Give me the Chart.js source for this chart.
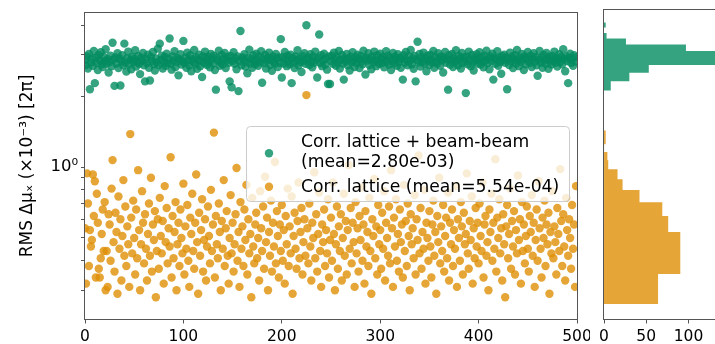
<!DOCTYPE html>
<html>
<head>
<meta charset="utf-8">
<script src="https://cdn.jsdelivr.net/npm/chart.js@4/dist/chart.umd.min.js"></script>
<style>
html, body { margin: 0; padding: 0; background: #fff; overflow: hidden; }
#wrap { position: relative; width: 715px; height: 344px; overflow: hidden; }
#scatter { position: absolute; left: 0; top: 0; }
#hist { position: absolute; left: 560px; top: 0; }
</style>
</head>
<body>
<div id="wrap">
  <canvas id="scatter" width="590" height="344"></canvas>
  <canvas id="hist" width="180" height="344"></canvas>
</div>
<script>
// =============== Data (RMS Δμx, units of 1e-3, one value per seed)
const beamBeamLabel = 'Corr. lattice + beam-beam\n(mean=2.80e-03)';
const latticeLabel = 'Corr. lattice (mean=5.54e-04)';

const beamBeam = [
  2.84, 2.71, 2.95, 2.62, 3.02, 2.14, 2.78, 2.88, 2.69, 3.11, 2.27, 2.91, 2.76, 2.58, 2.99, 2.83, 3.07, 2.73, 2.66, 2.93, 2.81, 3.16, 2.74, 2.87, 2.52,
  2.79, 2.97, 2.68, 3.37, 2.86, 2.21, 2.92, 2.75, 3.04, 2.63, 2.89, 2.22, 2.81, 2.98, 2.70, 3.34, 2.77, 2.54, 2.90, 3.09, 2.72, 2.85, 2.60, 2.94, 2.80,
  2.88, 3.13, 2.67, 2.79, 2.96, 2.74, 2.48, 2.91, 2.83, 3.05, 2.70, 2.31, 2.87, 2.76, 3.00, 2.64, 2.33, 2.93, 2.82, 3.08, 2.73, 2.57, 2.89, 2.78, 3.18,
  2.71, 3.34, 2.85, 2.97, 2.62, 2.80, 2.93, 2.69, 3.03, 2.76, 2.88, 3.51, 2.74, 2.59, 2.95, 2.83, 3.10, 2.66, 2.79, 2.90, 2.45, 2.86, 3.01, 2.72, 2.81,
  3.43, 2.77, 2.91, 2.64, 3.06, 2.84, 2.70, 2.98, 2.55, 2.87, 2.79, 3.14, 2.73, 2.92, 2.61, 2.85, 3.00, 2.68, 2.82, 2.41, 2.95, 2.76, 3.09, 2.88, 2.71,
  2.94, 2.80, 2.65, 3.02, 2.86, 2.75, 2.97, 2.58, 2.13, 2.90, 2.83, 3.12, 2.69, 2.78, 2.99, 2.72, 2.88, 3.05, 2.63, 2.84, 2.93, 2.77, 2.31, 2.96, 2.18,
  2.82, 3.07, 2.74, 2.89, 2.60, 2.95, 2.10, 2.81, 3.78, 2.70, 2.92, 2.86, 3.01, 2.67, 2.79, 2.50, 2.91, 3.15, 2.75, 2.87, 2.64, 2.98, 2.80, 2.73, 3.03,
  2.85, 2.69, 2.94, 2.78, 3.10, 2.28, 2.88, 2.76, 2.99, 2.62, 2.83, 2.91, 3.06, 2.71, 2.86, 2.56, 2.95, 2.80, 2.74, 3.02, 2.89, 2.66, 2.92, 2.77, 3.49,
  2.40, 2.93, 2.75, 3.08, 2.87, 2.68, 2.97, 2.81, 2.73, 3.00, 2.27, 2.90, 2.78, 2.63, 2.95, 2.84, 3.13, 2.70, 2.89, 2.79, 2.53, 2.96, 2.82, 3.04, 2.74,
  4.00, 2.86, 2.92, 2.71, 3.01, 2.80, 2.65, 2.94, 2.77, 3.09, 2.85, 2.40, 2.91, 3.65, 2.76, 2.98, 2.68, 2.83, 3.03, 2.72, 2.89, 2.59, 2.25, 2.95, 2.25,
  2.82, 2.97, 2.74, 3.06, 2.87, 2.69, 2.93, 2.79, 3.11, 2.62, 2.85, 2.99, 2.75, 2.35, 2.90, 2.81, 3.02, 2.70, 2.88, 2.57, 2.94, 2.78, 3.07, 2.84, 2.66,
  2.91, 2.77, 3.00, 2.86, 2.63, 2.96, 2.80, 2.73, 3.12, 2.89, 2.47, 2.92, 2.83, 3.04, 2.71, 2.87, 2.60, 2.95, 2.78, 3.09, 2.84, 2.68, 2.98, 2.81, 2.74,
  3.03, 2.88, 2.76, 2.93, 2.65, 2.85, 3.10, 2.79, 2.97, 2.72, 2.90, 2.58, 2.83, 3.05, 2.75, 2.94, 2.86, 2.69, 3.01, 2.80, 2.91, 2.64, 2.87, 2.35, 2.98,
  2.77, 3.08, 2.84, 2.70, 2.95, 2.82, 3.14, 2.73, 2.89, 2.61, 2.96, 2.31, 2.85, 3.40, 2.78, 3.02, 2.67, 2.92, 2.81, 3.06, 2.74, 2.88, 2.55, 2.97, 2.83,
  2.71, 3.00, 2.86, 2.78, 3.11, 2.64, 2.93, 2.80, 2.75, 3.04, 2.89, 2.69, 2.95, 2.84, 2.52, 2.91, 3.08, 2.77, 2.87, 2.13, 2.98, 2.72, 2.85, 3.02, 2.66,
  2.90, 2.79, 3.13, 2.83, 2.70, 2.96, 2.88, 2.62, 3.05, 2.76, 2.92, 2.81, 2.06, 2.94, 2.73, 3.09, 2.86, 2.68, 2.99, 2.78, 2.57, 2.91, 2.84, 3.01, 2.75,
  2.87, 3.07, 2.72, 2.93, 2.80, 2.65, 2.97, 2.83, 3.12, 2.76, 2.89, 2.60, 2.95, 2.82, 3.03, 2.35, 2.90, 2.74, 2.86, 3.10, 2.69, 2.92, 2.79, 2.49, 2.96,
  2.84, 3.00, 2.77, 2.91, 2.14, 2.88, 2.71, 3.06, 2.81, 2.94, 2.63, 2.86, 2.98, 2.75, 3.14, 2.83, 2.68, 2.92, 2.79, 3.02, 2.87, 2.58, 2.95, 2.73, 2.90,
  3.08, 2.82, 2.76, 2.97, 2.66, 2.89, 3.04, 2.80, 2.93, 2.70, 2.44, 2.85, 3.11, 2.78, 2.91, 2.64, 2.99, 2.83, 2.74, 3.05, 2.88, 2.61, 2.94, 2.81, 2.72,
  2.96, 2.84, 3.09, 2.77, 2.90, 2.67, 2.86, 3.01, 2.79, 2.93, 2.73, 3.16, 2.88, 2.55, 2.95, 2.82, 2.27, 2.90, 3.03, 2.76, 2.87, 2.69, 2.98, 2.80, 2.92
];

const lattice = [
  0.55, 0.32, 0.94, 0.70, 0.38, 0.54, 0.46, 0.49, 0.93, 0.62, 0.87, 0.34, 0.77, 0.58, 0.37, 0.34, 0.41, 0.52, 0.66, 0.44, 0.71, 0.30, 0.44, 0.31, 0.63,
  0.57, 0.40, 0.81, 1.07, 0.48, 0.36, 0.64, 0.53, 0.29, 0.75, 0.45, 0.60, 0.33, 0.51, 0.88, 0.42, 0.68, 0.38, 0.56, 0.47, 0.31, 1.38, 0.61, 0.43, 0.72,
  0.50, 0.35, 0.66, 0.41, 0.97, 0.54, 0.30, 0.47, 0.79, 0.58, 0.39, 0.63, 0.45, 0.33, 0.52, 0.70, 0.42, 0.90, 0.36, 0.57, 0.49, 0.65, 0.28, 0.44, 0.60,
  0.37, 0.74, 0.51, 0.43, 0.59, 0.32, 0.83, 0.48, 0.67, 0.39, 0.55, 0.46, 1.10, 0.34, 0.62, 0.41, 0.53, 0.71, 0.30, 0.47, 0.58, 0.38, 0.66, 0.50, 0.43,
  0.85, 0.35, 0.56, 0.45, 0.69, 0.40, 0.31, 0.61, 0.52, 0.77, 0.44, 0.37, 0.58, 0.93, 0.48, 0.29, 0.64, 0.42, 0.54, 0.73, 0.36, 0.49, 0.60, 0.33, 0.46,
  0.68, 0.51, 0.39, 0.80, 0.44, 0.57, 1.40, 0.34, 0.62, 0.47, 0.41, 0.70, 0.53, 0.30, 0.59, 0.45, 0.88, 0.38, 0.55, 0.65, 0.42, 0.32, 0.50, 0.76, 0.43,
  0.58, 0.36, 0.47, 0.63, 0.99, 0.40, 0.53, 0.31, 0.71, 0.45, 0.56, 0.38, 0.66, 0.49, 0.84, 0.35, 0.60, 0.43, 0.52, 0.28, 0.74, 0.46, 0.39, 0.57, 0.64,
  0.41, 0.50, 0.33, 0.79, 0.55, 0.44, 0.68, 0.37, 0.91, 0.48, 0.61, 0.30, 0.53, 0.42, 0.72, 0.36, 0.58, 0.46, 1.05, 0.39, 0.65, 0.51, 0.34, 0.57, 0.44,
  0.69, 0.40, 0.54, 0.32, 0.62, 0.47, 0.81, 0.38, 0.56, 0.43, 0.75, 0.29, 0.51, 0.64, 0.45, 0.37, 0.59, 0.86, 0.41, 0.53, 0.67, 0.35, 0.48, 0.60, 0.42,
  2.02, 0.55, 0.39, 0.70, 0.46, 0.33, 0.58, 0.50, 0.95, 0.41, 0.63, 0.36, 0.52, 0.78, 0.44, 0.31, 0.57, 0.48, 0.66, 0.38, 0.54, 0.43, 0.73, 0.34, 0.49,
  0.61, 0.40, 0.86, 0.52, 0.30, 0.47, 0.68, 0.37, 0.56, 0.44, 0.63, 0.33, 0.50, 0.77, 0.42, 0.59, 0.35, 0.54, 1.02, 0.45, 0.67, 0.39, 0.58, 0.48, 0.31,
  0.71, 0.43, 0.55, 0.36, 0.62, 0.49, 0.82, 0.40, 0.57, 0.32, 0.65, 0.46, 0.53, 0.38, 0.74, 0.44, 0.29, 0.60, 0.51, 0.89, 0.41, 0.56, 0.35, 0.69, 0.47,
  0.54, 0.37, 0.64, 0.45, 0.79, 0.33, 0.58, 0.50, 0.42, 0.68, 0.39, 0.97, 0.55, 0.31, 0.61, 0.46, 0.73, 0.40, 0.52, 0.36, 0.66, 0.48, 0.57, 0.34, 0.84,
  0.44, 0.59, 0.38, 0.70, 0.51, 0.30, 0.63, 0.47, 0.55, 0.41, 0.76, 0.35, 0.60, 0.49, 1.12, 0.43, 0.67, 0.37, 0.53, 0.45, 0.80, 0.32, 0.58, 0.50, 0.40,
  0.65, 0.46, 0.34, 0.57, 0.72, 0.42, 0.53, 0.29, 0.62, 0.48, 0.90, 0.39, 0.56, 0.44, 0.69, 0.36, 0.51, 0.61, 0.41, 0.78, 0.33, 0.58, 0.47, 0.66, 0.38,
  0.54, 0.45, 0.83, 0.31, 0.60, 0.50, 0.40, 0.71, 0.56, 0.35, 0.64, 0.47, 0.52, 0.94, 0.43, 0.37, 0.59, 0.49, 0.75, 0.32, 0.55, 0.41, 0.67, 0.46, 0.58,
  0.39, 0.70, 0.51, 0.44, 0.86, 0.34, 0.57, 0.62, 0.42, 0.48, 0.30, 0.66, 0.53, 0.77, 0.40, 0.58, 0.45, 1.08, 0.36, 0.61, 0.50, 0.73, 0.43, 0.55, 0.33,
  0.63, 0.47, 0.28, 0.56, 0.69, 0.41, 0.52, 0.81, 0.37, 0.59, 0.46, 0.65, 0.35, 0.54, 0.43, 0.92, 0.49, 0.60, 0.32, 0.71, 0.44, 0.57, 0.39, 0.51, 0.68,
  0.45, 0.36, 0.62, 0.53, 0.76, 0.42, 0.58, 0.31, 0.49, 0.66, 0.40, 0.87, 0.55, 0.45, 0.34, 0.61, 0.50, 0.72, 0.38, 0.57, 0.47, 0.64, 0.29, 0.53, 0.43,
  0.79, 0.41, 0.56, 0.48, 0.35, 0.67, 0.52, 0.44, 0.98, 0.59, 0.38, 0.63, 0.46, 0.33, 0.74, 0.54, 0.42, 0.60, 0.50, 0.37, 0.69, 0.45, 0.57, 0.31, 0.83
];

// histograms (counts per bin)
const beamBeamBinEdges = [2.07, 2.263, 2.456, 2.649, 2.842, 3.035, 3.228, 3.421, 3.614, 3.807, 4.00];
const beamBeamCounts = [8, 30, 53, 140, 143, 97, 26, 3, 0, 2];
const latticeBinEdges = [0.262, 0.350, 0.438, 0.526, 0.614, 0.702, 0.789, 0.877, 0.965, 1.053, 1.141,
                         1.229, 1.317, 1.405, 1.493, 1.581, 1.668, 1.756, 1.844, 1.932, 2.020];
const latticeCounts = [64, 91, 90, 76, 69, 42, 22, 16, 5, 4, 0, 2, 2, 0, 0, 0, 0, 0, 0, 1];

const yTickValues = [0.3, 0.4, 0.5, 0.6, 0.7, 0.8, 0.9, 1, 2, 3, 4];
const xTickStep = 100;
const histTickStep = 50;

// =============== Styles
const GREEN = 'rgba(2, 140, 95, 0.8)';
const ORANGE = 'rgba(222, 143, 5, 0.8)';
const SPINE = '#555';
const Y_MIN = 0.2265, Y_MAX = 4.51;

Chart.defaults.font.family = '"DejaVu Sans", sans-serif';
Chart.defaults.font.size = 15.5;
Chart.defaults.color = '#000';

const frame = {
    id: 'frame',
    afterDatasetsDraw(chart) {
        const {ctx, chartArea: a} = chart;
        ctx.save();
        ctx.strokeStyle = SPINE;
        ctx.lineWidth = 1;
        ctx.strokeRect(Math.round(a.left) - 0.5, Math.round(a.top) - 0.5,
                       Math.round(a.right - a.left) + 1, Math.round(a.bottom - a.top) + 1);
        ctx.restore();
    }
};

const legendBox = {
    id: 'legendBox',
    afterDatasetsDraw(chart) {
        const ctx = chart.ctx;
        ctx.save();
        ctx.beginPath();
        ctx.roundRect(246.5, 126.5, 323, 75, 4);
        ctx.fillStyle = 'rgba(255,255,255,0.8)';
        ctx.fill();
        ctx.strokeStyle = '#cccccc';
        ctx.lineWidth = 1;
        ctx.stroke();

        const rows = [
            {ds: 0, markerY: 153.3, baselines: [147.3, 166.5]},
            {ds: 1, markerY: 186.7, baselines: [191.7]}
        ];
        ctx.font = '17.2px "DejaVu Sans"';
        ctx.textBaseline = 'alphabetic';
        rows.forEach(r => {
            const ds = chart.data.datasets[r.ds];
            ctx.fillStyle = ds.backgroundColor;
            ctx.beginPath();
            ctx.arc(269, r.markerY, 4.2, 0, Math.PI * 2);
            ctx.fill();
            ctx.fillStyle = '#000';
            ds.label.split('\n').forEach((line, i) => ctx.fillText(line, 301, r.baselines[i]));
        });
        ctx.restore();
    }
};

// keep the x axis from adding room for its edge labels
const flatX = s => { s.height = 25; s.paddingLeft = 0; s.paddingRight = 0; };

// =============== Scatter
const toPoints = arr => arr.map((v, i) => ({x: i, y: v}));

new Chart(document.getElementById('scatter'), {
    type: 'scatter',
    data: {
        datasets: [{
            label: beamBeamLabel,
            data: toPoints(beamBeam),
            backgroundColor: GREEN,
            pointRadius: 4.2,
            borderWidth: 0,
            order: 1
        }, {
            label: latticeLabel,
            data: toPoints(lattice),
            backgroundColor: ORANGE,
            pointRadius: 4.2,
            borderWidth: 0,
            order: 0
        }]
    },
    options: {
        responsive: false,
        animation: false,
        devicePixelRatio: 1,
        layout: { padding: { top: 10, right: 13, bottom: 0, left: 0 } },
        plugins: { legend: { display: false }, tooltip: { enabled: false } },
        scales: {
            x: {
                type: 'linear', min: 0, max: 500,
                ticks: { stepSize: xTickStep, padding: 4, maxRotation: 0 },
                grid: { drawOnChartArea: false, tickLength: 4.5, tickColor: SPINE },
                border: { display: false },
                afterFit: flatX
            },
            y: {
                type: 'logarithmic', min: Y_MIN, max: Y_MAX, bounds: 'data',
                afterBuildTicks: s => { s.ticks = yTickValues.map(v => ({value: v, major: v === 1})); },
                ticks: { autoSkip: false, padding: 3, font: { size: 16.5 }, callback: v => v === 1 ? '10⁰' : '' },
                grid: { drawOnChartArea: false, tickLength: 4, tickColor: SPINE },
                border: { display: false },
                title: { display: true, text: 'RMS Δμₓ (×10⁻³) [2π]', font: { size: 17 }, padding: { top: 17, bottom: 0 } },
                afterFit: s => { s.width = 85; }
            }
        }
    },
    plugins: [frame, legendBox]
});

// =============== Histograms (step outline filled as a shape)
function stepShape(edges, counts) {
    const pts = [{x: 0, y: edges[0]}];
    counts.forEach((c, i) => {
        pts.push({x: c, y: edges[i]});
        pts.push({x: c, y: edges[i + 1]});
    });
    pts.push({x: 0, y: edges[edges.length - 1]});
    return pts;
}

new Chart(document.getElementById('hist'), {
    type: 'scatter',
    data: {
        datasets: [{
            data: stepShape(beamBeamBinEdges, beamBeamCounts),
            showLine: true, fill: 'shape', tension: 0,
            backgroundColor: GREEN, borderWidth: 0, pointRadius: 0
        }, {
            data: stepShape(latticeBinEdges, latticeCounts),
            showLine: true, fill: 'shape', tension: 0,
            backgroundColor: ORANGE, borderWidth: 0, pointRadius: 0
        }]
    },
    options: {
        responsive: false,
        animation: false,
        devicePixelRatio: 1,
        layout: { padding: { top: 10, right: 0, bottom: 0, left: 0 } },
        plugins: { legend: { display: false }, tooltip: { enabled: false } },
        scales: {
            x: {
                type: 'linear', min: 0, max: 161,
                ticks: { stepSize: histTickStep, padding: 4, maxRotation: 0 },
                grid: { drawOnChartArea: false, tickLength: 4.5, tickColor: SPINE },
                border: { display: false },
                afterFit: flatX
            },
            y: {
                type: 'logarithmic', min: Y_MIN, max: Y_MAX, bounds: 'data',
                ticks: { display: false },
                grid: { display: false },
                border: { display: false },
                afterFit: s => { s.width = 44; }
            }
        }
    },
    plugins: [frame]
});
</script>
</body>
</html>
